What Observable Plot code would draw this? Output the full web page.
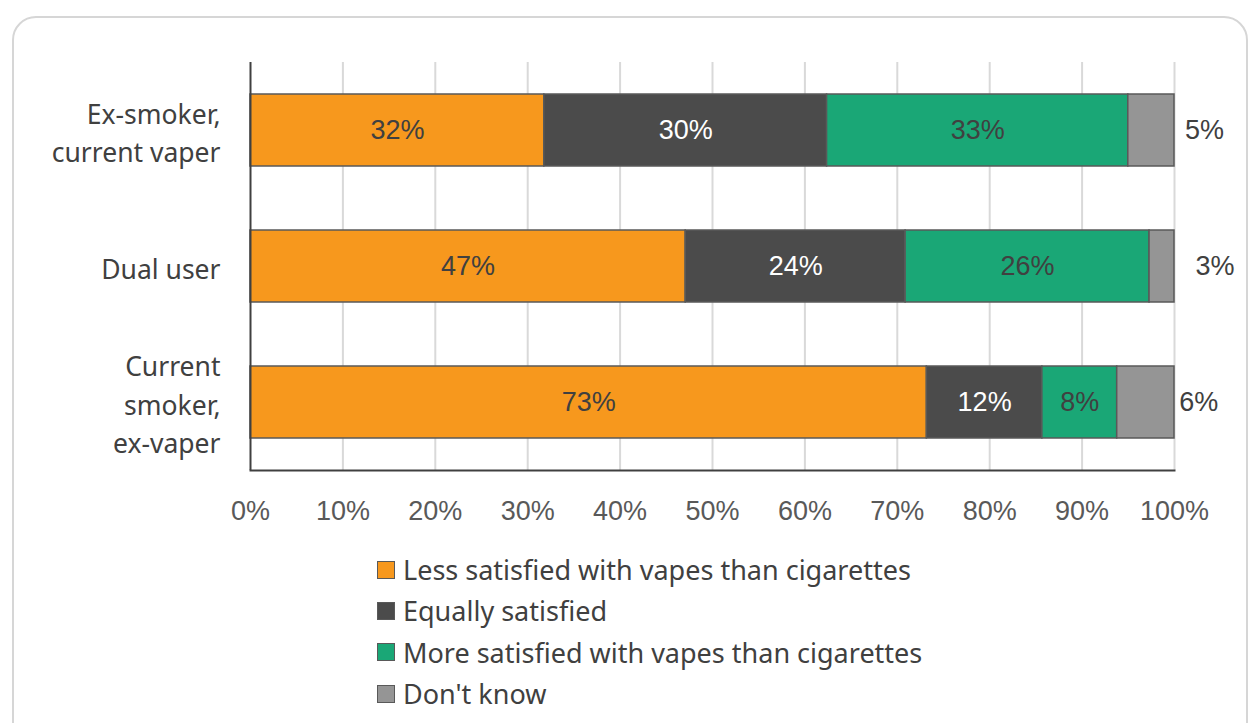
<!DOCTYPE html>
<html>
<head>
<meta charset="utf-8">
<script src="https://cdn.jsdelivr.net/npm/d3@7"></script>
<script src="https://cdn.jsdelivr.net/npm/@observablehq/plot@0.6"></script>
<style>
  html, body { margin: 0; padding: 0; background: #fff; }
  #wrap { position: relative; width: 1254px; height: 723px; overflow: hidden; background: #fff; }
  #frame { position: absolute; left: 12px; top: 16px; width: 1236px; height: 780px;
           border: 2px solid #d6d6d6; border-radius: 24px; box-sizing: border-box; }
  #chart { position: absolute; left: 0; top: 0; }
  #legend { position: absolute; left: 377px; top: 549px; font-family: "Noto Sans", Lato, sans-serif;
            font-size: 27px; color: #404040; }
  .item { display: flex; align-items: center; height: 41.3px; }
  .sw { width: 16px; height: 16px; border: 1.5px solid #595959; margin-right: 8px; box-sizing: content-box; }
</style>
</head>
<body>
<div id="wrap">
  <div id="frame"></div>
  <div id="chart"></div>
  <div id="legend"></div>
</div>
<script>
// Data
const categories = ["Ex-smoker,\ncurrent vaper", "Dual user", "Current\nsmoker,\nex-vaper"];
const series = [
  "Less satisfied with vapes than cigarettes",
  "Equally satisfied",
  "More satisfied with vapes than cigarettes",
  "Don't know"
];
const lessSatisfied  = [31.8, 47.1, 73.2];
const equallySat     = [30.6, 23.8, 12.5];
const moreSatisfied  = [32.6, 26.4, 8.1];
const dontKnow       = [5.0, 2.7, 6.2];
const lessLabels  = ["32%", "47%", "73%"];
const equalLabels = ["30%", "24%", "12%"];
const moreLabels  = ["33%", "26%", "8%"];
const dkLabels    = ["5%", "3%", "6%"];
const xTicks = [0, 10, 20, 30, 40, 50, 60, 70, 80, 90, 100];

const colors = ["#f7981d", "#4b4b4b", "#1aa776", "#959595"];
const labelColors = ["#404040", "#ffffff", "#404040", "#404040"];

const valueSets = [lessSatisfied, equallySat, moreSatisfied, dontKnow];
const labelSets = [lessLabels, equalLabels, moreLabels, dkLabels];
const table = [];
categories.forEach((c, i) => {
  series.forEach((s, j) => {
    table.push({cat: c, series: s, value: valueSets[j][i], label: labelSets[j][i], si: j});
  });
});

const numFont = "'Liberation Sans', Arial, sans-serif";
const catFont = "'Noto Sans', Lato, sans-serif";

const chart = Plot.plot({
  width: 1254,
  height: 540,
  marginLeft: 250,
  marginRight: 80,
  marginTop: 62,
  marginBottom: 70,
  style: {fontFamily: numFont, fontSize: "27px", color: "#595959", background: "transparent"},
  x: {domain: [0, 100], label: null},
  y: {domain: categories, paddingInner: 0.47, paddingOuter: 0.235, axis: null},
  color: {domain: series, range: colors},
  marks: [
    Plot.ruleX(xTicks.filter(d => d > 0), {stroke: "#d9d9d9", strokeWidth: 2}),
    Plot.axisX(xTicks, {tickSize: 0, tickPadding: 30, tickFormat: d => d + "%", label: null,
      fontSize: 27, fill: "#595959", fontFamily: numFont}),
    Plot.barX(table, Plot.stackX({x: "value", y: "cat", fill: "series",
      stroke: "#595959", strokeWidth: 1.5})),
    Plot.text(table, Plot.stackX({x: "value", y: "cat", text: d => d.si < 3 ? d.label : "",
      fill: d => labelColors[d.si], fontSize: 27, fontFamily: numFont})),
    Plot.text(table, Plot.stackX({x: "value", y: "cat", text: d => d.si === 3 ? d.label : "",
      fill: "#404040", fontSize: 27, fontFamily: numFont, dx: 53})),
    Plot.text(categories, {x: 0, y: d => d, text: d => d, dx: -30, textAnchor: "end",
      lineHeight: 1.45, fontSize: 26.5, fill: "#404040", fontFamily: catFont}),
    Plot.ruleX([0], {stroke: "#404040", strokeWidth: 2}),
    Plot.frame({anchor: "bottom", stroke: "#404040", strokeWidth: 2})
  ]
});
document.getElementById("chart").appendChild(chart);

const legend = document.getElementById("legend");
series.forEach((s, i) => {
  const it = document.createElement("div");
  it.className = "item";
  const sw = document.createElement("div");
  sw.className = "sw";
  sw.style.background = colors[i];
  const t = document.createElement("span");
  t.textContent = s;
  it.appendChild(sw);
  it.appendChild(t);
  legend.appendChild(it);
});
</script>
</body>
</html>
